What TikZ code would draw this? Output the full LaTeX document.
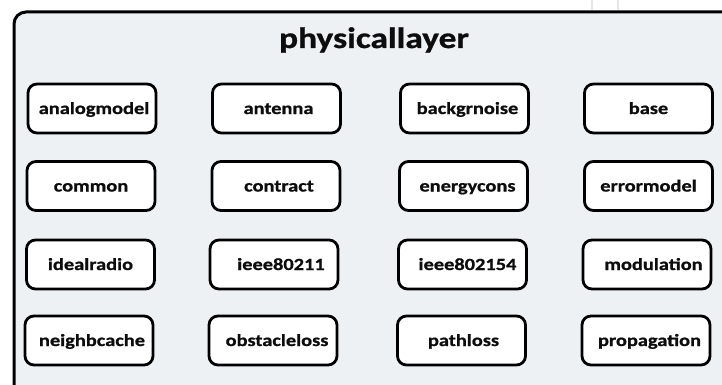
\documentclass[tikz,border=0pt]{standalone}
\usepackage{fontspec}
\newfontfamily\cf{Carlito}[FakeStretch=1.2,BoldFeatures={FakeBold=0.9}]
\definecolor{panel}{HTML}{EEF1F3}
\definecolor{faint}{HTML}{E4E6E8}
\newcommand\rs[2]{\hspace*{#1pt}#2}
\begin{document}
\begin{tikzpicture}[x=1pt,y=-1pt,
  modbox/.style={draw=black,fill=white,line width=2.8pt,rounded corners=9pt,
    minimum width=128pt,minimum height=49pt,inner sep=0pt,
    font=\cf\bfseries\fontsize{17}{17}\selectfont,text=black!95,
    text height=11pt,text depth=0pt},
  titlefont/.style={font=\cf\bfseries\fontsize{29.5}{30}\selectfont,text=black!95,inner sep=0pt}]
\useasboundingbox (0,0) rectangle (722,385);
\draw[faint,line width=2pt] (592,0) -- (592,10) (618,0) -- (618,10);
\draw[fill=panel,line width=3pt,rounded corners=12pt] (14,400) -- (14,12) -- (740,12) -- (740,400) -- cycle;
\node[titlefont,anchor=base] (title) at (374,48) {physicallayer};
% row 1
\node[modbox] (analogmodel) at (92,108.5) {\rs{4}{analogmodel}};
\node[modbox] (antenna) at (276.5,108.5) {\rs{4}{antenna}};
\node[modbox] (backgrnoise) at (464.5,108.5) {\rs{6}{backgrnoise}};
\node[modbox] (base) at (648.5,108.5) {base};
% row 2
\node[modbox] (common) at (91,186) {common};
\node[modbox] (contract) at (276,186) {\rs{6}{contract}};
\node[modbox] (energycons) at (463.5,186) {\rs{8}{energycons}};
\node[modbox] (errormodel) at (648.5,186) {errormodel};
% row 3
\node[modbox] (idealradio) at (90.5,264.5) {idealradio};
\node[modbox] (ieee80211) at (274,264.5) {\rs{14}{ieee80211}};
\node[modbox] (ieee802154) at (462.5,264.5) {\rs{10}{ieee802154}};
\node[modbox] (modulation) at (647,264.5) {\rs{13}{modulation}};
% row 4
\node[modbox] (neighbcache) at (89,340.5) {\rs{6}{neighbcache}};
\node[modbox] (obstacleloss) at (273,340.5) {\rs{8}{obstacleloss}};
\node[modbox] (pathloss) at (461.5,340.5) {\rs{4}{pathloss}};
\node[modbox] (propagation) at (646,340.5) {\rs{7}{propagation}};
\end{tikzpicture}
\end{document}
